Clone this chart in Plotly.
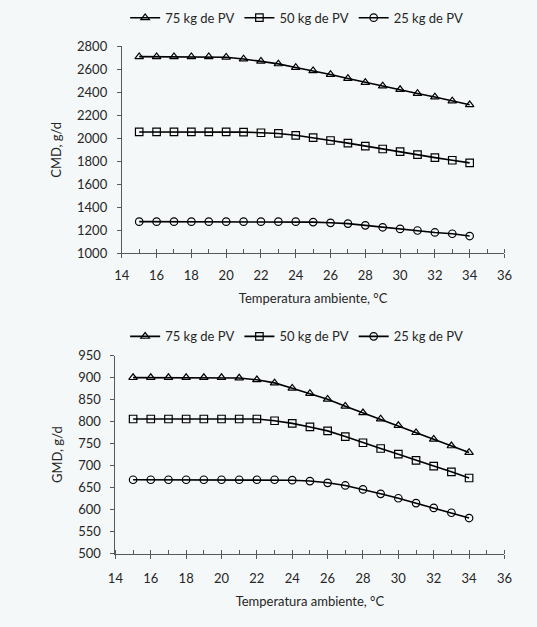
import plotly.graph_objects as go

temps = [15, 16, 17, 18, 19, 20, 21, 22, 23, 24, 25, 26, 27, 28, 29, 30, 31, 32, 33, 34]

cmd_75 = [2710, 2710, 2710, 2710, 2709, 2705, 2690, 2670, 2647, 2616, 2588, 2555, 2520, 2486, 2455, 2424, 2390, 2359, 2325, 2291]
cmd_50 = [2055, 2055, 2055, 2055, 2055, 2055, 2054, 2048, 2042, 2026, 2006, 1981, 1958, 1932, 1907, 1884, 1858, 1832, 1809, 1786]
cmd_25 = [1275, 1275, 1275, 1275, 1275, 1275, 1275, 1275, 1275, 1275, 1271, 1265, 1258, 1243, 1226, 1212, 1198, 1181, 1170, 1150]

gmd_75 = [900, 900, 900, 900, 900, 900, 899, 895, 888, 876, 864, 851, 835, 820, 806, 791, 775, 760, 745, 730]
gmd_50 = [806, 806, 806, 806, 806, 806, 806, 806, 802, 796, 788, 779, 766, 752, 739, 726, 712, 699, 686, 672]
gmd_25 = [668, 668, 668, 668, 668, 668, 668, 668, 668, 667, 665, 661, 655, 646, 636, 626, 615, 604, 593, 581]

series_names = ["75 kg de PV", "50 kg de PV", "25 kg de PV"]
symbols = ["triangle-up-open", "square-open", "circle-open"]

x_title = "Temperatura ambiente, °C"
top_title = "CMD, g/d"
bottom_title = "GMD, g/d"

FONT = "Lato"
FS = 13
AX = "#595959"
BG = "#f5f8f8"
TXT = "#262626"

fig = go.Figure()

for vals, name, sym in zip([cmd_75, cmd_50, cmd_25], series_names, symbols):
    fig.add_trace(go.Scatter(
        x=temps, y=vals, name=name, mode="lines+markers",
        line=dict(color="black", width=1.6),
        marker=dict(symbol=sym, size=7.5, color="black", line=dict(width=1.2, color="black")),
        xaxis="x", yaxis="y", legend="legend",
    ))
for vals, name, sym in zip([gmd_75, gmd_50, gmd_25], series_names, symbols):
    fig.add_trace(go.Scatter(
        x=temps, y=vals, name=name, mode="lines+markers",
        line=dict(color="black", width=1.6),
        marker=dict(symbol=sym, size=7.5, color="black", line=dict(width=1.2, color="black")),
        xaxis="x2", yaxis="y2", legend="legend2",
    ))

W, H = 537, 627
top_x = [117.3 / W, 511.7 / W]
top_y = [1 - 251.7 / H, 1 - 39.3 / H]
bot_x = [110.7 / W, 511.7 / W]
bot_y = [1 - 560.0 / H, 1 - 356.7 / H]

tickfont = dict(family=FONT, size=FS, color=TXT)
titlefont = dict(family=FONT, size=FS, color=TXT)

def xaxis_cfg(domain, anchor, lab_standoff, title_standoff):
    return dict(
        domain=domain, anchor=anchor, range=[14, 36], dtick=2, tick0=14,
        showgrid=False, zeroline=False, showline=True, linecolor=AX, linewidth=1,
        ticks="outside", ticklen=4, tickcolor=AX, tickwidth=1, ticklabelstandoff=lab_standoff,
        minor=dict(dtick=1, ticks="inside", ticklen=4, tickcolor=AX, tickwidth=1, showgrid=False),
        tickfont=tickfont, title=dict(text=x_title, font=titlefont, standoff=title_standoff),
    )

def xaxis_overlay(domain, anchor, over):
    return dict(
        domain=domain, anchor=anchor, overlaying=over, range=[14, 36], dtick=2, tick0=14,
        showgrid=False, zeroline=False, showline=False, showticklabels=False,
        ticks="inside", ticklen=4, tickcolor=AX, tickwidth=1,
    )

def yaxis_cfg(domain, anchor, rng, dtick, title):
    return dict(
        domain=domain, anchor=anchor, range=rng, dtick=dtick,
        showgrid=False, zeroline=False, showline=True, linecolor=AX, linewidth=1,
        ticks="outside", ticklen=4, tickcolor=AX, tickwidth=1, ticklabelstandoff=7,
        tickfont=tickfont, title=dict(text=title, font=titlefont, standoff=12),
    )

legend_common = dict(orientation="h", x=0.554, xanchor="center", yanchor="middle",
                     bgcolor="rgba(0,0,0,0)", font=dict(family=FONT, size=FS, color=TXT),
                     itemwidth=30, tracegroupgap=0)

fig.update_layout(
    width=W, height=H,
    margin=dict(l=0, r=0, t=0, b=0),
    paper_bgcolor=BG, plot_bgcolor="rgba(0,0,0,0)",
    font=dict(family=FONT, size=FS, color=TXT),
    xaxis=xaxis_cfg(top_x, "y", 6, 12),
    yaxis=yaxis_cfg(top_y, "x", [1000, 2800], 200, top_title),
    xaxis2=xaxis_cfg(bot_x, "y2", 9, 11),
    yaxis2=yaxis_cfg(bot_y, "x2", [500, 950], 50, bottom_title),
    xaxis3=xaxis_overlay(top_x, "y", "x"),
    xaxis4=xaxis_overlay(bot_x, "y2", "x2"),
    legend=dict(legend_common, y=1 - 10 / H),
    legend2=dict(legend_common, y=1 - 337 / H),
)

# invisible traces to activate the overlay axes that draw the inner half of the major ticks
fig.add_trace(go.Scatter(x=[14], y=[1000], mode="markers", marker=dict(opacity=0), showlegend=False,
                         hoverinfo="skip", xaxis="x3", yaxis="y"))
fig.add_trace(go.Scatter(x=[14], y=[500], mode="markers", marker=dict(opacity=0), showlegend=False,
                         hoverinfo="skip", xaxis="x4", yaxis="y2"))

fig.write_html("out.html")
